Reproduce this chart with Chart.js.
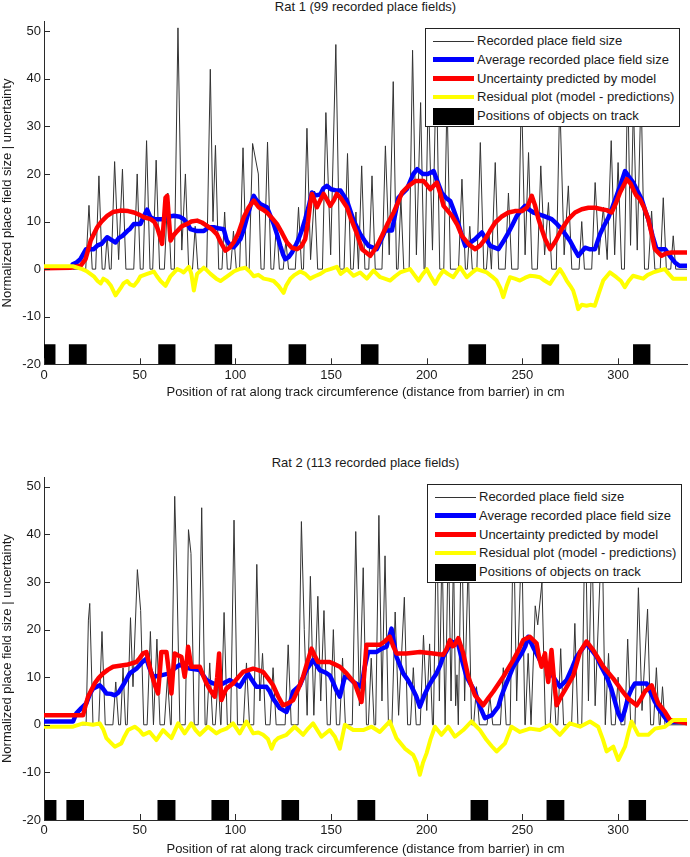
<!DOCTYPE html>
<html>
<head>
<meta charset="utf-8">
<title>Place field size vs model uncertainty</title>
<script src="https://cdn.jsdelivr.net/npm/chart.js@4.4.0/dist/chart.umd.min.js"></script>
<style>
  body { margin: 0; background: #fff; font-family: "Liberation Sans", Arial, sans-serif; color: #1a1a1a; }
  #page { position: relative; width: 690px; height: 857px; overflow: hidden; }
  canvas { position: absolute; left: 0; }
  .title { position: absolute; left: 44px; width: 643px; text-align: center; font-size: 13px; line-height: 16px; }
  .legend { position: absolute; width: 253px; height: 97px; border: 1px solid #222; background: #fff; font-size: 13px; }
  .legend .row { position: absolute; left: 0; width: 100%; height: 18px; }
  .legend .swatch { position: absolute; left: 7px; width: 41px; top: 50%; }
  .legend .label { position: absolute; left: 51px; top: 0; line-height: 18px; white-space: nowrap; }
</style>
</head>
<body>
<div id="page">
  <div class="title" style="top:-1px">Rat 1 (99 recorded place fields)</div>
  <canvas id="rat1" width="690" height="400" style="top:0"></canvas>
  <div class="legend" id="legend1" style="left:425px; top:28px"></div>

  <div class="title" style="top:455px">Rat 2 (113 recorded place fields)</div>
  <canvas id="rat2" width="690" height="401" style="top:456px"></canvas>
  <div class="legend" id="legend2" style="left:427px; top:484px"></div>
</div>
<script>
// 軸ラベル・凡例
const X_TITLE = "Position of rat along track circumference (distance from barrier) in cm";
const Y_TITLE = "Normalized place field size | uncertainty";
const SERIES_NAMES = [
  "Recorded place field size",
  "Average recorded place field size",
  "Uncertainty predicted by model",
  "Residual plot (model - predictions)",
  "Positions of objects on track",
];
const X_TICKS = [0, 50, 100, 150, 200, 250, 300];
const Y_TICKS = [-20, -10, 0, 10, 20, 30, 40, 50];
const X_MAX = 336;
const Y_MIN = -20;
const Y_MAX = 52;
const OBJ_TOP = -15.8;

// ---- Rat 1 ----
const rat1Recorded = [
  [15,0],[21.8,0],[23.5,13.4],[25.2,0],[27,0],[28.7,19.6],[30.4,0],[31.8,0],[33,7],[34.2,0],
  [35.1,0],[36.9,22.6],[39,2],[41,21],[42.8,0],[46.9,0],[48.7,20],[50.3,0],[51.8,0],[53.6,27],[55.4,0],
  [56.8,0],[58.6,22.9],[60.4,0],[62.9,0],[64.7,16],[66.4,0],[68.1,0],[70,50.7],[72,4],[73.9,20],[75.6,0],
  [77.6,0],[79,9],[80.4,0],[85,0],[86.9,42],[88.3,10],[89.6,26],[91.3,0],[93,0],[94.4,12],[95.8,0],
  [97.5,0],[99,8],[100.5,0],[102.2,0],[104,25.5],[105.8,0],[107.2,0],[109,26.4],[112,20],[113.4,0],
  [115,0],[116.8,26.7],[118.6,0],[120,0],[121.5,10],[123,0],[125,0],[126.4,6],[127.8,0],
  [131.3,0],[133,13],[134.6,0],[135.6,0],[137.4,29.6],[139.3,2],[141.4,16.4],[143,0],
  [145.5,0],[147.3,32.9],[149.8,3],[152.5,47.2],[154.6,0],[156.8,0],[158.6,24.3],[160.3,0],
  [161.6,0],[163,12],[164.3,0],[164.5,0],[166,21.7],[167.7,0],[169.7,0],[171.4,19.6],[173.1,0],
  [176.6,0],[178.4,25.9],[180.4,3],[182.5,39.4],[184.2,0],[185,0],[186.5,15],[188,0],
  [190.8,0],[192.6,46],[194.6,3],[196.8,35],[198.6,0],[199.1,0],[200.8,38],[203,4],[205,43],[206.8,0],
  [208.9,0],[210.6,36],[212.4,0],[216.6,0],[218.4,18.9],[220.2,0],[221.2,0],[222.5,9],[223.8,0],
  [226.2,0],[228,26.6],[229.8,0],[231.2,0],[232.5,8],[233.8,0],[234,0],[235.8,22.4],[237.6,0],
  [241,0],[242.7,16],[244.4,0],[247.7,0],[249.5,38],[251.4,3],[253.2,24.5],[255,0],
  [257.8,0],[259.6,21.7],[261.6,3],[263.6,14],[265.3,0],[267.7,0],[269.5,36],[271.8,3],[274,17.5],[275.8,0],
  [279.6,0],[281,10],[282.4,0],[286.2,0],[288,18.2],[290,3],[292.3,13],[294.3,2],[296.4,27],[298.2,3],
  [300,22.4],[301.8,0],[303.3,0],[305,40],[306.5,5],[308,35],[310,4],[312,38],[313.8,0],
  [315.8,0],[317.5,12.2],[319.2,0],[322,0],[323.6,15],[325.2,0],[327.5,0],[328.8,7],[330.1,0],[336,0],
];
const rat1Average = [
  [15,1],[17,1.4],[19,2.1],[21,3.5],[22,4.2],[26,4.2],[28,5],[30,5.3],[33,6.7],[35,6.2],[37.4,5.6],
  [39,6.5],[41,7],[43.5,8],[45,8.5],[47,9.5],[50.4,9.5],[52,11],[53.9,12.5],[55.5,11],[57.4,10.5],
  [62.6,10.5],[65,11],[67.8,11.2],[71,11],[73,10.5],[75,9.5],[76.5,8.4],[80,8],[83.5,8],[86,8.8],
  [88.7,8.8],[91,8.6],[93.9,8.4],[95.5,6],[97.4,4.9],[99.1,4.6],[101,5.5],[102.6,6.3],[104.5,8.5],
  [106.1,10.9],[108,13.5],[109.6,15.4],[111,14.5],[113,13.7],[116.5,13],[118,11.5],[120,9.5],[122,7],
  [123.5,4.9],[125,3],[126.1,2.1],[128,2.6],[129.6,3.5],[131.5,5],[133,6.3],[135,8.5],[136.5,10.5],
  [138.5,13.5],[140,16.1],[142,15.5],[144.4,15.7],[146,17],[147.8,17.5],[150,16.8],[153,16.5],[155,16.5],
  [158.3,14.4],[161.8,10.2],[165.2,7.4],[167.5,6],[169.6,4.9],[173.9,4.2],[176,6],[178.3,8.1],[181.8,8.1],
  [183.5,11.5],[185.2,15],[187.5,16],[189.6,16.8],[191.5,18.6],[193,20],[195,21],[198,20],[200.5,20],
  [203.6,20.6],[206,18],[207.9,16],[210,15],[212.3,14.3],[214,12.5],[215.8,10.5],[218,7.5],[220.1,4.9],
  [222.5,5.5],[225.3,6.3],[227,7],[228.8,7.7],[231,6.3],[233.2,4.9],[237.5,4.2],[240,5.8],[242.7,7.7],
  [245,9.5],[247.1,11.2],[249.5,12.5],[251.4,13.3],[253.5,12.5],[255.8,11.9],[261,11.2],[265.3,10.5],
  [268,9.5],[270.5,8.4],[273,7],[274.9,5.9],[277,4.3],[279.2,2.8],[282.7,4.5],[285,4.2],[287.9,4.2],
  [290.5,7.3],[292.5,9],[294.9,10.8],[297,13],[299.2,15.4],[301.5,18],[303.6,20.6],[305.5,19.5],
  [307.9,18.2],[310,16.5],[312.3,14.7],[314,12.5],[315.8,10.5],[318,7],[320.1,4.2],[324.5,4.2],
  [327,2.8],[329.7,1.4],[332,0.7],[336,0.7],
];
const rat1Model = [
  [0,0.2],[13.9,0.3],[19.1,0.7],[21.7,2.1],[24.4,6],[27.8,8.8],[30,10],[33,11.2],[36,12],[40,12.3],
  [44,12.2],[47,11.9],[50,11.4],[52.2,10.9],[55.7,10.5],[57.5,10],[59.1,8.8],[60.5,7],[61.7,5.3],
  [62.6,10],[63.5,15],[64.4,15.4],[65.2,11],[66.1,6],[67.5,7],[69.6,8],[72,9],[74.8,9.5],[77,10],
  [80,10.2],[82.5,9.8],[85.2,9.1],[88,8.3],[90.4,7.3],[92.5,5.5],[94.8,3.9],[97,4.5],[99.1,5.6],
  [101.5,7.5],[104.4,10.9],[107,13],[109.6,14.4],[112.2,13],[114.5,12.5],[116.5,11.9],[119,10.8],
  [121.7,9.5],[124.5,7.5],[127,5.6],[129.5,4.5],[132.2,4.2],[134.5,4.8],[136.5,6.3],[138,10],[139,13.5],
  [140,15.8],[141.3,14.5],[142.6,13],[144.4,14.5],[146.1,15.8],[148,14.5],[149.6,13.3],[151.5,14.5],
  [153,15.8],[155,15],[158.3,13],[160.5,10.5],[163,8],[166.2,4.2],[170.5,2.8],[173.5,4.5],[176.6,7],
  [179.5,9.5],[182.7,11.9],[185,14],[187.1,16.1],[190.5,17.5],[194,18.5],[198.4,18.5],[201.9,16.8],
  [205.3,18.2],[207,16],[208.8,13.3],[213.2,11.2],[216,9.3],[218.4,7],[222,5.2],[225.3,4.2],[228,5],
  [230.5,6.3],[233,8],[235.8,9.8],[239,11],[242.7,11.9],[246,12.2],[249.7,12.2],[252.5,13],[254.9,15.4],
  [256.5,13.5],[258.4,10.5],[260,8.5],[261.9,6.3],[264.5,4.2],[267.5,6],[270.5,8.4],[274,10.5],
  [277.5,11.9],[281,12.6],[284.5,12.9],[288,12.9],[291.4,12.6],[294,12.4],[296.6,11.9],[299,14],
  [301,16.1],[304.5,18.9],[306.5,18],[307.9,16.8],[309.5,15.5],[311.4,14.7],[313.5,13],[315.8,10.5],
  [317.5,7.5],[319.2,4.2],[322.7,2.8],[325,3.3],[327.9,3.5],[336,3.5],
];
const rat1Residual = [
  [0,0.6],[15,0.6],[17.4,0.3],[20,0],[22.6,-0.5],[26,-1.5],[28,-2.5],[29.6,-3],[31,-2],[33,-2.5],
  [35,-3.5],[37.4,-5.5],[40,-4],[41.5,-3],[43.5,-2.5],[45,-3.2],[47,-3.5],[49,-2.5],[50.4,-1.5],
  [53.9,-1],[57.4,-0.5],[59,-1.5],[60.9,-2.5],[63.5,-3.5],[66.1,-1.5],[69.6,0],[71.5,-0.3],[73,-0.7],
  [75.7,0.5],[77,-1],[78.3,-4.5],[79,-3],[80,-1],[83.5,0.3],[85,-0.2],[87,-1],[90,-2],[92.2,-2.5],
  [94,-2],[95.7,-1.5],[99.1,-0.5],[102,0],[105.2,0.3],[107.5,-0.5],[109.6,-1.5],[112,-1.2],[114.8,-2],
  [117.5,-2.2],[120,-2.5],[122.5,-3.5],[125.2,-5],[126.5,-3.5],[128.7,-2],[131,-1.2],[133.9,-0.5],
  [136.5,-1],[139.1,-2],[141.5,-1.5],[144.4,-1],[147,-0.3],[149.6,0],[153,0.5],[155,-1],[158.3,0],
  [161.8,-1.4],[165.2,-0.7],[168.7,-2],[172.2,-0.3],[175.7,-1.7],[178,-2],[180.9,-2.4],[183.5,-1.5],
  [186.1,-0.7],[191.3,0],[193.5,-1.2],[195.7,-2.4],[198,-1],[200,0],[202,-1.5],[204.4,-3.1],[206.5,-1.5],
  [208.7,-0.3],[211,-1],[213.9,-1.7],[217.4,0.4],[220.9,-1.7],[223.5,-0.8],[226.1,0],[228.5,-0.3],
  [231.3,-0.7],[234,-1.5],[236.5,-2.4],[238.5,-4],[240,-5.9],[241.8,-3.5],[243.5,-1.7],[246,-2],
  [248.7,-2.4],[251.5,-1.8],[253.9,-1.4],[256.5,-1.5],[259.1,-1.7],[261.5,-2.4],[264.4,-3.1],[267,-1.5],
  [269.6,0],[271.5,-1.2],[273.1,-2.4],[275,-3.5],[276.5,-4.5],[278,-6.5],[279.1,-8.4],[281,-7.5],
  [283.5,-7.7],[285.5,-7.5],[287.8,-7.7],[290,-5],[292.2,-2.4],[295.7,-0.7],[299.1,-1.7],[301.5,-2.5],
  [303.5,-3.8],[305.5,-2.5],[307.8,-1.4],[310.5,-1.7],[313.1,-2],[315.5,-1.2],[318.3,-0.7],[321.5,-0.3],
  [324.4,0],[326.5,-1],[328.7,-2],[336,-2],
];
const rat1ObjStart = [0, 13, 59.7, 89.2, 127.8, 165.6, 221.8, 260, 307.8];
const rat1ObjEnd   = [6, 22.3, 68.7, 98.3, 137, 174.8, 231, 269.2, 317];

// ---- Rat 2 ----
const rat2Recorded = [
  [20,0],[22,0],[23.2,22],[23.9,25.5],[25.6,0],[28.6,0],[30.3,19.6],[32,0],[36,0],[37.5,9],[39,0],
  [40,0],[41.3,12],[42.6,0],[43.5,0],[45.2,22.5],[46.5,8],[48.8,32.6],[50.5,24],[52.1,0],[53.9,0],
  [55.6,19.6],[57.2,0],[57.4,0],[59,18],[60.6,0],[62.9,0],[64.5,10],[66.1,0],[66.5,0],[68.3,48],
  [69.5,30],[71,0],[73.8,0],[75.5,41],[76.8,36],[78.5,0],[80.6,0],[82.4,45.6],[84.2,0],[85,0],
  [86.6,13],[88.2,0],[89.5,0],[91,10],[92.3,0],[92.5,0],[94.1,23.6],[95.8,0],[97.5,0],[99.3,43],
  [101.1,0],[104.2,0],[105.8,13],[107.4,0],[109.6,0],[111.2,33.7],[112.8,5],[114.2,15],[115.8,0],
  [118.1,0],[119.7,12],[121.3,0],[126,0],[127.6,16.8],[129.2,0],[132.8,0],[134.5,42.7],[136,20],
  [137.5,2],[139.2,31.2],[141,2],[143.1,27],[144.6,5],[146.3,24],[148,0],[149.6,0],[151.2,20],[152.8,0],
  [154.5,0],[156,14],[157.5,0],[161.1,0],[162.9,40.6],[164.8,4],[166.8,33],[168.5,0],[169.5,0],
  [171,14],[172.5,0],[173.3,0],[175,44],[176.6,5],[178.2,35.5],[180,0],[181.8,0],[183.5,23.7],
  [185.3,2],[188.3,26.8],[190,0],[191.5,0],[193,12],[194.5,0],[196.6,0],[198.3,18.8],[200,3],
  [201.5,17],[203,0],[203.5,0],[205.2,45],[206.6,5],[208,38],[209.6,0],[209.8,0],[211.3,40],[212.7,5],
  [214,36],[215.1,4],[215.8,10.5],[216.5,0],[216.6,0],[218.2,44],[219.8,5],[221.7,35],[223.4,0],
  [224.5,0],[226,8],[227.5,0],[231.5,0],[233,6],[234.5,0],[238.5,0],[240,12],[241.5,0],[243.6,0],
  [245.3,44],[247,5],[249.6,40],[251.3,0],[251.5,0],[253,15],[254.5,0],[255,0],[256.7,25],[258,21],
  [260.2,30],[262,0],[264.5,0],[266,12],[267.5,0],[268.5,0],[270,16],[271.5,0],[275.7,0],[277.4,21.3],
  [279,0],[281,0],[282.8,45],[284.5,5],[286.3,40],[288,4],[291.6,42],[293.3,0],[293.5,0],[295,15],
  [296.5,0],[298.5,0],[300,10],[301.5,0],[303.5,0],[305,18],[306.6,0],[308.8,0],[310.6,28.8],
  [312.5,3],[315.4,24.3],[317,0],[318.5,0],[320,12],[321.5,0],[322,0],[323.2,8],[324.5,0],[336.5,0],
];
const rat2Average = [
  [0,0.7],[15.2,0.7],[16.9,2.4],[19.5,3.5],[22.1,4.5],[24,6.5],[25.6,7.6],[29.1,8.3],[31,7.5],[32.6,6.6],
  [35,6.5],[37,6.2],[39,6.8],[41.3,8.3],[43,9.5],[44.8,10.8],[48.3,11.8],[51,13],[53.5,13.9],[55,12],
  [57,10.1],[60,10.3],[62.2,10.5],[65.7,10.8],[68,11.8],[70.9,12.6],[73.5,12.2],[76.2,11.8],[81.4,11.5],
  [83,10.5],[84.9,9.4],[88.4,8.7],[91.8,8.3],[94,8.8],[97.1,9.4],[99.5,8.8],[102.3,8],[104.5,9.5],
  [106.6,10.8],[108.5,9.5],[111,8],[116.2,8],[118,7],[119.7,5.5],[121.5,4.5],[123.2,3.5],[126.7,2.7],
  [128.5,4.5],[130.2,7],[133.7,8.3],[135.5,10],[137.1,11.5],[140.6,13.6],[142.5,12.5],[144.1,11.5],
  [147,11],[149.3,10.4],[151,9],[152.5,7.5],[154.6,5.9],[157.2,10.1],[159,10],[161.6,9],[165.9,8],
  [167.5,12],[169.4,15.3],[173.8,15.3],[176.5,16],[179,16.4],[181.6,20.2],[184.2,14.3],[186,12.5],
  [187.7,10.8],[190,9.5],[192.1,8],[194.5,6],[196.4,3.8],[198.5,6],[200.8,8],[203,9.5],[205.1,10.8],
  [207,12.5],[208.6,14.3],[211,16],[213,17.5],[216.5,16.8],[218.5,13.5],[220.8,10.1],[223,8.5],
  [225.2,7],[227.8,3.8],[230.4,1.4],[233.9,2],[237.4,3.8],[239,6],[240.9,8],[243,10],[245.2,12.2],
  [249.6,15],[251.5,16.5],[253,18.5],[256,16],[259.1,13.6],[262,12.5],[264.4,11.5],[267,9.5],[269.6,8],
  [273.1,9.4],[276,12],[278.3,14.3],[281,15.8],[283.5,17.1],[286,15.8],[288.8,14.3],[291.5,12],[294,10.1],
  [296.5,7.5],[298.4,4.8],[300,2.5],[301.8,1],[303.5,3],[305.3,5.9],[307,7.5],[308.8,8.7],[314.9,8.7],
  [317,6.8],[319.3,4.8],[321.5,3.2],[323.6,2],[326.2,0.6],[336.5,0.6],
];
const rat2Model = [
  [0,2],[20.4,2],[21.7,4],[23,5.9],[26.5,8.7],[28.5,9.8],[30.9,10.8],[33.5,11.6],[36.1,12.2],[43.1,12.6],
  [48.3,13.2],[50,14],[51.8,15],[53.5,15.3],[54.8,13],[56.1,10.8],[57.8,8.5],[59.6,6.6],[60.5,11],
  [61.3,15.3],[64,15.3],[65.3,11],[66.6,6.6],[67.4,11],[68.3,15],[70,14.6],[71.8,14.3],[73.5,10.1],
  [74.5,13],[75.3,16.4],[77,12.2],[81.4,12.2],[83,10.5],[84.9,8.7],[87,7.2],[89.2,5.9],[90.5,10],
  [91.5,15],[92,10],[92.7,5.2],[94,6.5],[95.3,7.6],[98.8,8.7],[101.5,10],[104,11.1],[109.3,11.8],
  [112,11.5],[114.5,11.1],[117,9.8],[119.7,8.3],[122.3,6],[124.9,4.1],[127.5,4.5],[130.2,5.2],
  [132.8,7.5],[135.4,10.1],[137.5,13],[139.8,16],[141.5,14.5],[143.2,13.2],[149.3,13.2],[152,12.7],
  [154.6,12.2],[158.1,10.8],[162.4,8.7],[165.9,4.8],[167.2,10],[168.5,16.8],[175.5,16.8],[178,17.5],
  [180.7,18.5],[182.5,16.5],[184.2,15],[189.4,15],[196.4,15.3],[203.4,15],[208.6,14.7],[210.5,16],
  [212.1,17.8],[213.5,16.5],[214.7,16.8],[216.5,18.2],[219.1,15],[221.7,10.1],[225.2,6.2],[229.5,4.1],
  [232,5.5],[234.8,7],[240,10.1],[245.2,13.6],[248,15.7],[250.4,17.8],[253.9,18.5],[257.4,17.1],
  [258.8,14],[260,12.2],[261,14],[261.8,15],[262.6,11.5],[263.5,9],[264.4,12.5],[265.2,15.7],[266.6,9],
  [267.9,4.1],[270,5.8],[272.2,7.3],[276.6,10.4],[280.1,15.3],[283.5,17.5],[287,15.7],[292.3,12.2],
  [297.5,9.7],[301.8,7.3],[305.3,5.5],[309.7,4.1],[312,5.5],[314,7],[317.5,8.3],[319.5,6],[321,4.5],
  [324.5,2.7],[327.1,1],[336.5,0.3],
];
const rat2Residual = [
  [0,-0.4],[15.2,-0.4],[20.4,0.3],[25.6,0],[29.1,0.3],[31,-1],[32.6,-2.8],[35,-3.8],[37,-4.6],[40.4,-3.9],
  [42,-2.5],[43.9,-1.1],[47.4,-0.4],[50,-1.2],[51.8,-2.1],[55.2,-1.5],[58.7,-3.2],[62.2,-1.1],[64.5,-2],
  [66.6,-2.8],[70.1,0.3],[73.5,-1.8],[77,0.3],[79,-1],[81.4,-2.1],[85.7,-0.4],[90.1,-1.8],[92.5,-1.2],
  [95.3,-0.8],[98.8,0.3],[102.3,-1.8],[105.8,0.7],[109.3,-1.8],[112,-1.6],[114.5,-2.1],[117,-3],
  [118.9,-5],[120.5,-3.5],[122.3,-2.8],[126.7,-2.1],[131,-0.4],[135.4,-2.1],[138,-0.8],[140.6,0.3],
  [145,-2.5],[149.3,-1.1],[152,-2.5],[154.6,-5],[157.2,0],[161.6,-1.1],[166.8,-1.1],[171.2,-0.4],
  [175.5,-1.5],[180.7,0.7],[184.2,-2.8],[188.6,-5],[192.9,-6.3],[194.8,-8],[196.4,-10.5],[198,-8],
  [199.9,-6],[202,-3],[204.3,-0.4],[207.7,-2.1],[211.2,-0.4],[214.7,-2.5],[219.1,-1.1],[223.4,0.7],
  [227.8,-1.1],[231.3,-3.2],[234,-4.5],[236.5,-5.6],[240.9,-3.9],[244.3,-0.4],[248.7,-1.5],[253.9,-0.8],
  [259.1,-1.1],[264.4,0],[269.6,-2.1],[274.8,0.3],[280.1,-0.4],[285.3,0.7],[289.6,-0.4],[292,-3],
  [294,-5.6],[297.5,-4.6],[300.1,-7.4],[303.6,-4.6],[305.5,-1.5],[307,0.7],[310.6,-2.1],[315.8,-2.1],
  [319.3,-0.8],[324.5,-0.4],[328.9,1],[336.5,1],
];
const rat2ObjStart = [0.5, 11.7, 59.3, 87.5, 124.1, 163.8, 222.9, 262.6, 305.5];
const rat2ObjEnd   = [6.5, 20.9, 68.7, 96.7, 133.3, 173.1, 232.1, 271.9, 314.7];

const TEXT_COLOR = "#1a1a1a";
const AXIS_COLOR = "#2a2a2a";
const COLORS = { recorded: "#333", average: "#0000ff", model: "#ff0000", residual: "#ffff00", objects: "#000" };

Chart.defaults.font.family = '"Liberation Sans", Arial, sans-serif';
Chart.defaults.font.size = 13;
Chart.defaults.color = TEXT_COLOR;

// 物体位置の矩形（-20 まで塗りつぶし）
function objectOutline(starts, ends) {
  const pts = [];
  starts.forEach((s, i) => {
    pts.push([s, Y_MIN], [s, OBJ_TOP], [ends[i], OBJ_TOP], [ends[i], Y_MIN]);
  });
  return pts;
}

// MATLAB 風の内向き目盛り
const inwardTicks = {
  id: "inwardTicks",
  afterDraw(chart) {
    const { ctx, chartArea, scales: { x, y } } = chart;
    ctx.save();
    ctx.strokeStyle = AXIS_COLOR;
    ctx.lineWidth = 1;
    ctx.beginPath();
    x.ticks.forEach(t => {
      const px = Math.round(x.getPixelForValue(t.value)) + 0.5;
      ctx.moveTo(px, chartArea.bottom);
      ctx.lineTo(px, chartArea.bottom - 6);
    });
    y.ticks.forEach(t => {
      const py = Math.round(y.getPixelForValue(t.value)) + 0.5;
      ctx.moveTo(chartArea.left, py);
      ctx.lineTo(chartArea.left + 6, py);
    });
    ctx.stroke();
    ctx.restore();
  },
};

function lineSet(label, data, color, width, order) {
  return {
    label, data, order,
    borderColor: color,
    borderWidth: width,
    borderJoinStyle: "round",
    borderCapStyle: "round",
    pointRadius: 0,
    fill: false,
  };
}

function buildChart(id, d) {
  const ctx = document.getElementById(id).getContext("2d");
  return new Chart(ctx, {
    type: "line",
    data: {
      datasets: [
        lineSet(SERIES_NAMES[0], d.recorded, COLORS.recorded, 1, 5),
        lineSet(SERIES_NAMES[1], d.average, COLORS.average, 4.5, 4),
        lineSet(SERIES_NAMES[2], d.model, COLORS.model, 4.5, 3),
        lineSet(SERIES_NAMES[3], d.residual, COLORS.residual, 4, 2),
        {
          label: SERIES_NAMES[4],
          data: objectOutline(d.objStart, d.objEnd),
          order: 1,
          borderWidth: 0,
          borderColor: COLORS.objects,
          backgroundColor: COLORS.objects,
          pointRadius: 0,
          fill: { value: Y_MIN },
        },
      ],
    },
    options: {
      responsive: false,
      animation: false,
      events: [],
      layout: { padding: { top: d.padTop, right: 3, left: 0, bottom: 0 } },
      plugins: { legend: { display: false }, tooltip: { enabled: false } },
      scales: {
        x: {
          type: "linear",
          min: 0, max: X_MAX,
          grid: { display: false, drawTicks: false },
          border: { display: true, color: AXIS_COLOR, width: 1 },
          ticks: { padding: 3, maxRotation: 0, autoSkip: false, color: TEXT_COLOR },
          afterBuildTicks: s => { s.ticks = X_TICKS.map(v => ({ value: v })); },
          afterFit: s => { s.height = d.xAxisHeight; },
          title: { display: true, text: X_TITLE, padding: 0, color: TEXT_COLOR },
        },
        y: {
          type: "linear",
          min: Y_MIN, max: Y_MAX,
          grid: { display: false, drawTicks: false },
          border: { display: true, color: AXIS_COLOR, width: 1 },
          ticks: { padding: 3, autoSkip: false, color: TEXT_COLOR },
          afterBuildTicks: s => { s.ticks = Y_TICKS.map(v => ({ value: v })); },
          afterFit: s => { s.width = 44; },
          title: { display: true, text: Y_TITLE, padding: 0, color: TEXT_COLOR },
        },
      },
    },
    plugins: [inwardTicks],
  });
}

function buildLegend(id) {
  const box = document.getElementById(id);
  const swatches = [
    { color: COLORS.recorded, h: 1 },
    { color: COLORS.average, h: 5 },
    { color: COLORS.model, h: 5 },
    { color: COLORS.residual, h: 4 },
    { color: COLORS.objects, h: 17 },
  ];
  box.innerHTML = SERIES_NAMES.map((name, i) => {
    const s = swatches[i];
    return `<div class="row" style="top:${3 + i * 18.75}px">
      <span class="swatch" style="background:${s.color};height:${s.h}px;margin-top:${-s.h / 2}px"></span>
      <span class="label">${name}</span>
    </div>`;
  }).join("");
}

buildChart("rat1", {
  recorded: rat1Recorded, average: rat1Average, model: rat1Model, residual: rat1Residual,
  objStart: rat1ObjStart, objEnd: rat1ObjEnd, padTop: 21.7, xAxisHeight: 35.7,
});
buildChart("rat2", {
  recorded: rat2Recorded, average: rat2Average, model: rat2Model, residual: rat2Residual,
  objStart: rat2ObjStart, objEnd: rat2ObjEnd, padTop: 21.3, xAxisHeight: 37,
});
buildLegend("legend1");
buildLegend("legend2");
</script>
</body>
</html>
